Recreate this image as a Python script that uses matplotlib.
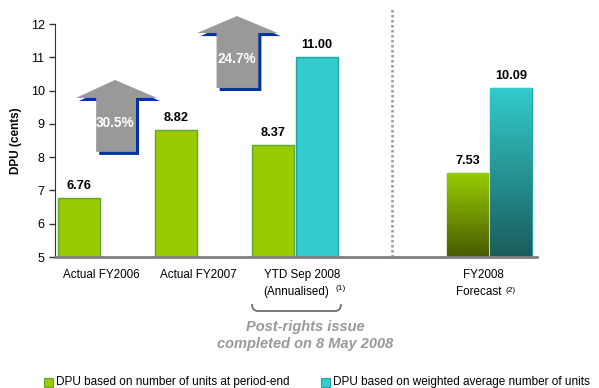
import matplotlib
matplotlib.use("Agg")
import matplotlib.pyplot as plt
import numpy as np
from matplotlib.colors import LinearSegmentedColormap
from matplotlib.patches import Polygon, Rectangle, PathPatch
from matplotlib.path import Path
import matplotlib.transforms as mtransforms

plt.rcParams['font.family'] = ['Liberation Sans', 'DejaVu Sans']

# data
categories = ["Actual FY2006", "Actual FY2007", "YTD Sep 2008", "FY2008"]
sub_labels = [None, None, "(Annualised)", "Forecast"]
footnotes = [None, None, "(1)", "(2)"]
positions = [0, 1, 2, 4]
dpu_period_end = [6.76, 8.82, 8.37, 7.53]
dpu_weighted = [None, None, 11.00, 10.09]
growth_labels = ["30.5%", "24.7%"]

GREEN = "#99CC00"
GREEN_EDGE = "#5FA532"
TEAL = "#33CCCC"
TEAL_EDGE = "#22A3A3"

fig = plt.figure(figsize=(5.99, 3.88), dpi=100)
ax = fig.add_axes([0.0918, 0.3376, 0.8047, 0.6004])

w = 0.43
off = 0.225
ymin = 5

green_bars = ax.bar([p - off for p in positions], [v - ymin for v in dpu_period_end], w,
                    bottom=ymin, color=GREEN, edgecolor=GREEN_EDGE, linewidth=1, zorder=2)
wx = [p + off for p, v in zip(positions, dpu_weighted) if v is not None]
wv = [v for v in dpu_weighted if v is not None]
teal_bars = ax.bar(wx, [v - ymin for v in wv], w, bottom=ymin,
                   color=TEAL, edgecolor=TEAL_EDGE, linewidth=1, zorder=2)

# forecast bars have a vertical gradient
def gradient_fill(bar, top_col, bot_col):
    x0 = bar.get_x()
    x1 = x0 + bar.get_width()
    y0 = bar.get_y()
    y1 = y0 + bar.get_height()
    cmap = LinearSegmentedColormap.from_list("g", [bot_col, top_col])
    grad = np.linspace(0, 1, 256).reshape(-1, 1)
    im = ax.imshow(grad, cmap=cmap, origin="lower", aspect="auto",
                   extent=(x0, x1, y0, y1), zorder=2.5)
    im.set_clip_path(bar)

gradient_fill(green_bars[3], GREEN, "#475C00")
gradient_fill(teal_bars[1], TEAL, "#1A5C5C")

# value labels
for p, v in zip(positions, dpu_period_end):
    ax.annotate(f"{v:.2f}", (p - off, v), xytext=(0, 6), textcoords="offset pixels",
                ha="center", va="bottom", fontsize=9.2, fontweight="bold")
for p, v in zip(wx, wv):
    ax.annotate(f"{v:.2f}", (p, v), xytext=(0, 6), textcoords="offset pixels",
                ha="center", va="bottom", fontsize=9.2, fontweight="bold")

# growth arrows
def block_arrow(cx, head_l, head_r, sh_l, sh_r, tip, head_base, bottom, label):
    pts = [(sh_l, bottom), (sh_r, bottom), (sh_r, head_base), (head_r, head_base),
           (cx, tip), (head_l, head_base), (sh_l, head_base)]
    shadow_tr = mtransforms.offset_copy(ax.transData, fig=fig, x=2.2, y=-2.2, units="points")
    ax.add_patch(Polygon(pts, closed=True, facecolor="#0033A0", edgecolor="none",
                         transform=shadow_tr, clip_on=False, zorder=4))
    ax.add_patch(Polygon(pts, closed=True, facecolor="#999999", edgecolor="none",
                         clip_on=False, zorder=5))
    ax.text(cx, (head_base + bottom) / 2 + 0.05, label, color="white", fontsize=9.8,
            fontweight="bold", ha="center", va="center", zorder=6)

block_arrow(0.144, -0.258, 0.577, -0.05, 0.36, 10.32, 9.78, 8.16, growth_labels[0])
block_arrow(1.40, 0.99, 1.82, 1.19, 1.62, 12.24, 11.73, 10.08, growth_labels[1])

# dotted separator
ax.plot([3, 3], [ymin, 12.52], color="#999999", linestyle=(0, (1, 1)), linewidth=1.8,
        clip_on=False, zorder=1)

ax.set_xlim(-0.474, 4.49)
ax.set_ylim(5, 12)
ax.set_yticks(range(5, 13))
ax.tick_params(axis="y", labelsize=9, length=4, width=1, direction="out", color="#333333")
ax.set_xticks([])
ax.set_ylabel("DPU (cents)", fontsize=8.5, fontweight="bold", labelpad=6)
ax.spines["top"].set_visible(False)
ax.spines["right"].set_visible(False)
ax.spines["left"].set_color("#333333")
ax.spines["bottom"].set_color("#808080")
ax.spines["bottom"].set_linewidth(2)
ax.spines["bottom"].set_zorder(3)

# category labels (offsets in pixels from the group centre on the baseline)
line1_dx = [0, 0, 7, -6]
line2_dx = [0, 0, 1, -11]
note_dx = [0, 0, 45, 21]
note_dy = [0, 0, -31, -33]
for i, p in enumerate(positions):
    ax.annotate(categories[i], (p, ymin), xytext=(line1_dx[i], -18), textcoords="offset pixels",
                ha="center", va="center", fontsize=8.4)
    if sub_labels[i]:
        ax.annotate(sub_labels[i], (p, ymin), xytext=(line2_dx[i], -35), textcoords="offset pixels",
                    ha="center", va="center", fontsize=8.4)
    if footnotes[i]:
        ax.annotate(footnotes[i], (p, ymin), xytext=(note_dx[i], note_dy[i]),
                    textcoords="offset pixels", ha="center", va="center", fontsize=6)

# brace under the YTD group
bx0, bx1 = 252 / 599, 341 / 599
by0, by1 = 1 - 304 / 388, 1 - 311 / 388
dx = 6 / 599
verts = [(bx0, by0), (bx0, by1), (bx0 + dx, by1), (bx1 - dx, by1), (bx1, by1), (bx1, by0)]
codes = [Path.MOVETO, Path.CURVE3, Path.CURVE3, Path.LINETO, Path.CURVE3, Path.CURVE3]
fig.patches.append(PathPatch(Path(verts, codes), transform=fig.transFigure,
                             facecolor="none", edgecolor="#707070", linewidth=1.3))
fig.text(305 / 599, 1 - 335.5 / 388, "Post-rights issue\ncompleted on 8 May 2008",
         ha="center", va="center", fontsize=10.5, fontweight="bold", style="italic",
         color="#999999", linespacing=1.25)

# legend
legend_items = [("DPU based on number of units at period-end", GREEN, GREEN_EDGE, 44),
                ("DPU based on weighted average number of units", TEAL, TEAL_EDGE, 321)]
for txt, fc, ec, px in legend_items:
    fig.patches.append(Rectangle((px / 599, 1 - 387 / 388), 9 / 599, 9 / 388,
                                 transform=fig.transFigure, facecolor=fc, edgecolor=ec,
                                 linewidth=0.8))
    fig.text((px + 12) / 599, 1 - 382 / 388, txt, ha="left", va="center", fontsize=8.5)

fig.savefig("out.png", dpi=100)
